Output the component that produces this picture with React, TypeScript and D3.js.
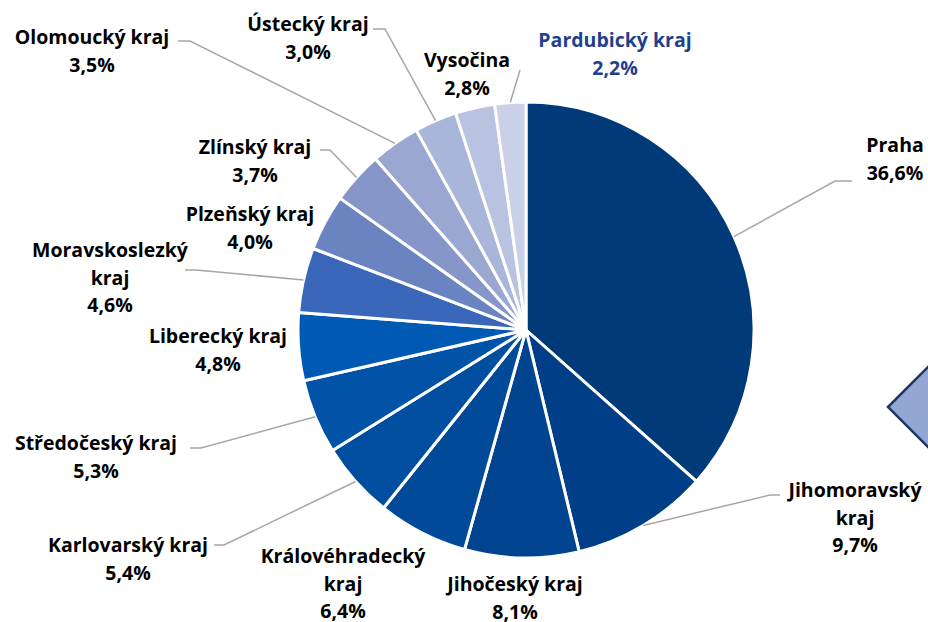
import React from "react";
import * as d3 from "d3";

const width = 928;
const height = 622;

// kraje in clockwise order from 12 o'clock
const regions = [
  "Praha", "Jihomoravský kraj", "Jihočeský kraj", "Královéhradecký kraj",
  "Karlovarský kraj", "Středočeský kraj", "Liberecký kraj", "Moravskoslezký kraj",
  "Plzeňský kraj", "Zlínský kraj", "Olomoucký kraj", "Ústecký kraj",
  "Vysočina", "Pardubický kraj"
];
const shares = [36.6, 9.7, 8.1, 6.4, 5.4, 5.3, 4.8, 4.6, 4.0, 3.7, 3.5, 3.0, 2.8, 2.2];
const colors = [
  "#003a78", "#003f87", "#00448f", "#004a99", "#004e9f", "#0053a6", "#0059b2",
  "#3a67b9", "#6a84c1", "#8796c8", "#9aa8d1", "#a9b5d9", "#b9c2e0", "#c9d0e7"
];

// label layout: text lines, center x, first baseline, leader elbow + end (or none)
const labelLayout = [
  { lines: ["Praha"], x: 895, y: 152, leader: [[835, 181], [852, 181]] },
  { lines: ["Jihomoravský", "kraj"], x: 855, y: 497, leader: [[770, 495], [780, 495]] },
  { lines: ["Jihočeský kraj"], x: 515, y: 591, leader: null },
  { lines: ["Královéhradecký", "kraj"], x: 343, y: 563, leader: null },
  { lines: ["Karlovarský kraj"], x: 128, y: 552, leader: [[224, 545], [214, 545]] },
  { lines: ["Středočeský kraj"], x: 96, y: 450, leader: [[201, 448], [190, 448]] },
  { lines: ["Liberecký kraj"], x: 218, y: 343, leader: null },
  { lines: ["Moravskoslezký", "kraj"], x: 110, y: 257, leader: [[196, 270], [185, 270]] },
  { lines: ["Plzeňský kraj"], x: 250, y: 221, leader: null },
  { lines: ["Zlínský kraj"], x: 255, y: 154, leader: [[330, 150], [320, 150]] },
  { lines: ["Olomoucký kraj"], x: 92, y: 44, leader: [[190, 41], [178, 41]] },
  { lines: ["Ústecký kraj"], x: 308, y: 31, leader: [[385, 29], [373, 29]] },
  { lines: ["Vysočina"], x: 467, y: 67, leader: null },
  { lines: ["Pardubický kraj"], x: 615, y: 47, leader: [[520, 70]] }
];

const cx = 526;
const cy = 330;
const radius = 228;
const lineH = 27.5;

const fmt = (v: number) => v.toFixed(1).replace(".", ",") + "%";

export default function App() {
  const pie = d3.pie<number>().sort(null).value(d => d);
  const arcs = pie(shares);
  const arc = d3.arc<d3.PieArcDatum<number>>().innerRadius(0).outerRadius(radius);
  const edge = (a: d3.PieArcDatum<number>) => {
    const m = (a.startAngle + a.endAngle) / 2;
    return [cx + radius * Math.sin(m), cy - radius * Math.cos(m)];
  };

  return (
    <svg width={width} height={height} style={{ position: "absolute", left: 0, top: 0, background: "#fff" }}
      fontFamily="'Open Sans', 'Noto Sans', sans-serif" fontWeight="bold" fontSize={19.5}>
      <polygon points="888,407 950,345 1012,407 950,469" fill="#94a7d2" stroke="#1f3864" strokeWidth={2.5} />
      <g transform={`translate(${cx},${cy})`}>
        {arcs.map((a, i) => (
          <path key={i} d={arc(a) || ""} fill={colors[i]} stroke="#fff" strokeWidth={3} strokeLinejoin="round" />
        ))}
      </g>
      {arcs.map((a, i) => {
        const l = labelLayout[i];
        if (!l.leader) return null;
        const pts = [edge(a), ...l.leader];
        return <polyline key={i} points={pts.map(p => p.join(",")).join(" ")} fill="none" stroke="#a6a6a6" strokeWidth={1.5} />;
      })}
      {regions.map((name, i) => {
        const l = labelLayout[i];
        const rows = [...l.lines, fmt(shares[i])];
        return (
          <text key={name} x={l.x} y={l.y} textAnchor="middle" fill={i === 13 ? "#1f3f8f" : "#000"}>
            {rows.map((r, j) => (
              <tspan key={j} x={l.x} y={l.y + j * lineH}>{r}</tspan>
            ))}
          </text>
        );
      })}
    </svg>
  );
}
